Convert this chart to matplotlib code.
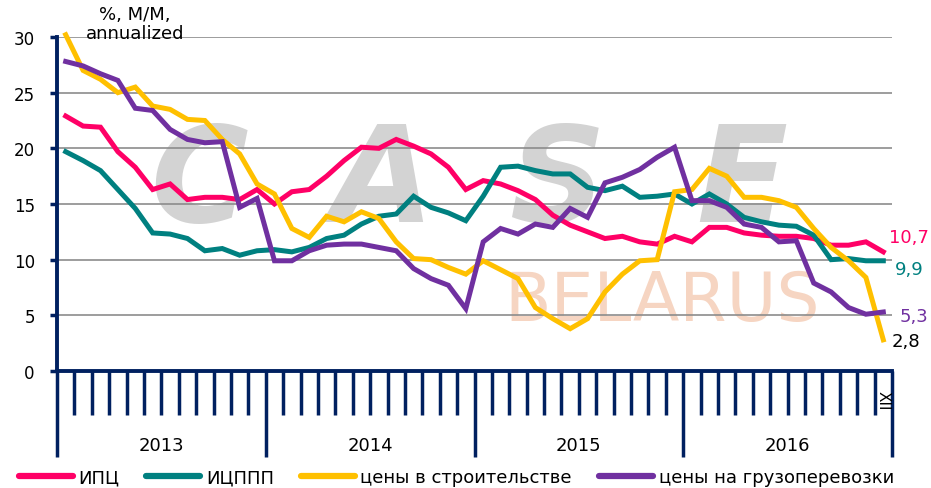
import numpy as np
import matplotlib.pyplot as plt
from matplotlib.transforms import blended_transform_factory
from matplotlib.lines import Line2D

# monthly data, I.2013 - XII.2016, %, m/m annualized
years = ["2013", "2014", "2015", "2016"]
cpi = [22.9, 22.0, 21.9, 19.7, 18.3, 16.3, 16.8, 15.4, 15.6, 15.6, 15.4, 16.3,
       15.0, 16.1, 16.3, 17.5, 18.9, 20.1, 20.0, 20.8, 20.2, 19.5, 18.3, 16.3,
       17.1, 16.8, 16.2, 15.4, 14.0, 13.1, 12.5, 11.9, 12.1, 11.6, 11.4, 12.1,
       11.6, 12.9, 12.9, 12.4, 12.2, 12.1, 12.1, 11.9, 11.3, 11.3, 11.6, 10.7]
ppi = [19.7, 18.9, 18.0, 16.3, 14.6, 12.4, 12.3, 11.9, 10.8, 11.0, 10.4, 10.8,
       10.9, 10.7, 11.1, 11.9, 12.2, 13.2, 13.9, 14.1, 15.7, 14.7, 14.2, 13.5,
       15.7, 18.3, 18.4, 18.0, 17.7, 17.7, 16.5, 16.2, 16.6, 15.6, 15.7, 15.9,
       15.0, 15.9, 15.0, 13.8, 13.4, 13.1, 13.0, 12.2, 10.0, 10.1, 9.9, 9.9]
constr = [30.2, 27.0, 26.2, 25.0, 25.5, 23.8, 23.5, 22.6, 22.5, 20.8, 19.5, 16.8,
          15.9, 12.8, 12.0, 13.9, 13.4, 14.3, 13.7, 11.6, 10.1, 10.0, 9.3, 8.7,
          9.9, 9.1, 8.3, 5.7, 4.7, 3.8, 4.7, 7.1, 8.7, 9.9, 10.0, 16.1,
          16.3, 18.2, 17.5, 15.6, 15.6, 15.3, 14.7, 12.8, 11.1, 9.9, 8.4, 2.8]
freight = [27.8, 27.4, 26.7, 26.1, 23.6, 23.4, 21.7, 20.8, 20.5, 20.6, 14.7, 15.5,
           9.9, 9.9, 10.8, 11.3, 11.4, 11.4, 11.1, 10.8, 9.2, 8.3, 7.7, 5.6,
           11.6, 12.8, 12.3, 13.2, 12.9, 14.6, 13.8, 16.9, 17.4, 18.1, 19.2, 20.1,
           15.3, 15.3, 14.7, 13.2, 12.9, 11.6, 11.7, 7.9, 7.1, 5.7, 5.1, 5.3]
labels = ["ИПЦ", "ИЦППП", "цены в строительстве", "цены на грузоперевозки"]
colors = ["#ff0066", "#008080", "#ffc000", "#7030a0"]
end_text = ["10,7", "9,9", "2,8", "5,3"]
end_colors = ["#ff0066", "#008080", "#000000", "#7030a0"]
end_offsets = [(4, 11), (8, -6), (6, -1), (12, -3)]

navy = "#002060"
plt.rcParams["font.family"] = ["DejaVu Sans"]

fig = plt.figure(figsize=(9.31, 4.89), dpi=100)
ax = fig.add_axes([57 / 931, 117 / 489, 835 / 931, 334 / 489])

# faint logo watermark
for ch, xp in zip("CASE", [0.17, 0.39, 0.60, 0.82]):
    ax.text(xp, 0.56, ch, transform=ax.transAxes, fontsize=96, fontweight="bold",
            fontstyle="italic", color="#d3d3d3", ha="center", va="center", zorder=0)
ax.text(0.725, 0.21, "BELARUS", transform=ax.transAxes, fontsize=49,
        color="#f6d5c2", ha="center", va="center", zorder=0)

x = np.arange(len(cpi))
series = [cpi, ppi, constr, freight]
for vals, c, lab in zip(series, colors, labels):
    ax.plot(x, vals, color=c, lw=3.6, label=lab, zorder=3, solid_joinstyle="miter",
            clip_on=False)

for vals, t, c, off in zip(series, end_text, end_colors, end_offsets):
    ax.annotate(t, (x[-1], vals[-1]), xytext=off, textcoords="offset points",
                fontsize=13, color=c, ha="left", va="center", annotation_clip=False)

ax.set_xlim(-0.5, len(cpi) - 0.5)
ax.set_ylim(0, 30)
ax.set_yticks(range(0, 31, 5))
ax.tick_params(axis="y", direction="out", length=5, width=2.5, color=navy,
               labelsize=12, pad=11)
ax.grid(axis="y", color="#8c8c8c", lw=1.2, zorder=1)
ax.set_axisbelow(True)

bounds = np.arange(-0.5, len(cpi), 1)
year_b = bounds[::12]
ax.set_xticks(year_b)
ax.set_xticks([b for b in bounds if b not in year_b], minor=True)
ax.tick_params(axis="x", which="major", direction="out", length=62, width=2.5,
               color=navy, labelbottom=False)
ax.tick_params(axis="x", which="minor", direction="out", length=32, width=2.5,
               color=navy)

for s in ["top", "right"]:
    ax.spines[s].set_visible(False)
for s in ["left", "bottom"]:
    ax.spines[s].set_color(navy)
    ax.spines[s].set_linewidth(2.8)

tr = blended_transform_factory(ax.transData, ax.transAxes)
for k, yr in enumerate(years):
    ax.text(12 * k + 5.5, -0.222, yr, transform=tr, ha="center", va="center",
            fontsize=13)
ax.text(len(cpi) - 1, -0.085, "XII", transform=tr, ha="center", va="center",
        fontsize=11, rotation=270)

fig.text(135 / 931, 0.988, "%, M/M,\nannualized", ha="center", va="top",
         fontsize=13, linespacing=1.1)

handles = [Line2D([], [], color=c, lw=4.5, solid_capstyle="round") for c in colors]
fig.legend(handles, labels, loc="center", bbox_to_anchor=(0.49, 0.022), ncol=4,
           frameon=False, fontsize=13, handlelength=3.0, handletextpad=0.3,
           columnspacing=1.5)

fig.savefig("out.png", dpi=100)
